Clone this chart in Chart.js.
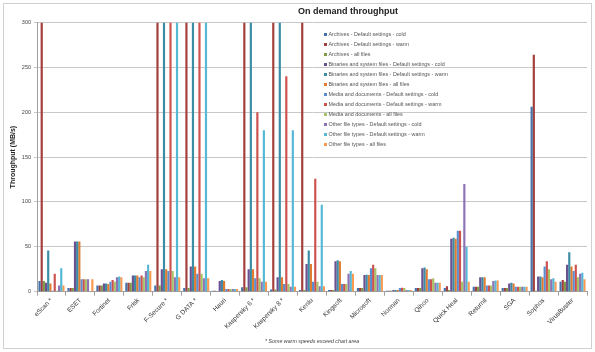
<!DOCTYPE html>
<html><head><meta charset="utf-8">
<script src="https://cdn.jsdelivr.net/npm/chart.js@4/dist/chart.umd.min.js"></script>
<style>html,body{margin:0;padding:0;background:#fff;} #wrap{width:595px;height:352px;position:relative;}</style>
</head><body><div id="wrap"><canvas id="c" width="595" height="352"></canvas></div>
<script>
const chartTitle = 'On demand throughput';
const yTitle = 'Throughput (MB/s)';
const footnote = '* Some warm speeds exceed chart area';
const categories = ['eScan *','ESET','Fortinet','Frisk','F-Secure *','G DATA *','Hauri','Kaspersky 6 *','Kaspersky 8 *','Kenlu','Kingsoft','Microsoft','Norman','Qihoo','Quick Heal','Returnil','SGA','Sophos','VirusBuster'];
const yTicks = [0,50,100,150,200,250,300];
const seriesNames = [
 'Archives - Default settings - cold','Archives - Default settings - warm','Archives - all files',
 'Binaries and system files - Default settings - cold','Binaries and system files - Default settings - warm','Binaries and system files - all files',
 'Media and documents - Default settings - cold','Media and documents - Default settings - warm','Media and documents - all files',
 'Other file types - Default settings - cold','Other file types - Default settings - warm','Other file types - all files'];
const seriesColors = ['#4672A8','#A23E3B','#7F9B47','#6A5190','#3B8CA5','#E07B30','#5A8ED0','#CD524E','#A5C466','#8E72B4','#55B8D4','#F99A50'];
const archColdVals = [12,4,7,10,7,4,1,5,2.5,2,2,4,1,4,4,5.5,4,206,11];
const archWarmVals = [300,4,7,10,300,300,1,300,300,300,2,4,1,4,6,5.5,4,264,13];
const archAllVals  = [12,4,7,10,7,4,0,5,2.5,2,2,4,1,4,2,5.5,4,1,11];
const binColdVals  = [10,56,9,18,25,28,12,25,16,31,34,18.5,2,26,59,16,9,17,30];
const binWarmVals  = [46,56,9,18,300,300,13,300,300,46,35,19,2,27,60,16,10,17,44];
const binAllVals   = [9,56,8.5,18,25,28,12,25,16,31,34,18.5,2,25,59,16,9,16,28];
const medColdVals  = [1,14,11,16,23,20,3,15,8.5,11,8.5,26,4,14,68,7,5.5,28,23];
const medWarmVals  = [20,14,13,18,300,300,3,200,240,126,8.5,30,4.5,14,68,7,5.5,34,30];
const medAllVals   = [1,14,11,16,23,20,3,15,8.5,11,8.5,26,4,15,11,7,5.5,25,16];
const othColdVals  = [7,14,16,23,16,15,3,11,5.5,6,20,18.5,2,10,120,12,5.5,14,20];
const othWarmVals  = [26,0,17,30,300,300,3,180,180,97,23,18.5,2,10,50,12.5,5.5,15,21];
const othAllVals   = [7,14,16,23,16,15,3,11,5.5,6,20,18.5,2,10,11,12.5,5.5,11,14];
const allSeries = [archColdVals,archWarmVals,archAllVals,binColdVals,binWarmVals,binAllVals,medColdVals,medWarmVals,medAllVals,othColdVals,othWarmVals,othAllVals];

const FONT = '"Liberation Sans", Arial, sans-serif';
const extras = {
  id: 'extras',
  afterDraw(chart) {
    const ctx = chart.ctx;
    ctx.save();
    ctx.strokeStyle = '#d0d0d0'; ctx.lineWidth = 1;
    ctx.strokeRect(3.5, 3.5, 588, 345);
    ctx.fillStyle = '#222';
    ctx.font = 'bold 9px ' + FONT;
    ctx.textAlign = 'center'; ctx.textBaseline = 'middle';
    ctx.fillText(chartTitle, 348, 12);
    ctx.save();
    ctx.translate(13, (chart.chartArea.top + chart.chartArea.bottom) / 2);
    ctx.rotate(-Math.PI / 2);
    ctx.font = 'bold 7px ' + FONT;
    ctx.fillText(yTitle, 0, 0);
    ctx.restore();
    ctx.font = 'italic 5.3px ' + FONT;
    ctx.fillStyle = '#444';
    ctx.textAlign = 'left';
    ctx.fillText(footnote, 265, 342);
    ctx.font = '5.4px ' + FONT;
    chart.data.datasets.forEach((ds, i) => {
      const y = 34.5 + i * 10;
      ctx.fillStyle = ds.backgroundColor;
      ctx.fillRect(324, y - 1.5, 3, 3);
      ctx.fillStyle = '#555';
      ctx.fillText(ds.label, 328.5, y);
    });
    ctx.restore();
  }
};

new Chart(document.getElementById('c'), {
  type: 'bar',
  data: {
    labels: categories,
    datasets: allSeries.map((vals, i) => ({
      label: seriesNames[i], data: vals, backgroundColor: seriesColors[i], borderWidth: 0
    }))
  },
  options: {
    responsive: false, animation: false,
    devicePixelRatio: 1,
    layout: { padding: { top: 22.5, right: 8, left: 0, bottom: 0 } },
    datasets: { bar: { categoryPercentage: 0.9, barPercentage: 1.0 } },
    plugins: { legend: { display: false }, title: { display: false }, tooltip: { enabled: false } },
    scales: {
      x: {
        grid: { offset: true, drawOnChartArea: false, color: '#a0a0a0', tickLength: 4 },
        border: { color: '#a0a0a0' },
        ticks: { minRotation: 45, maxRotation: 45, autoSkip: false, color: '#333', font: { size: 6.5, family: FONT }, padding: 1 },
        afterFit(s) { s.height = 60.3; }
      },
      y: {
        min: 0, max: 300,
        afterBuildTicks(s) { s.ticks = yTicks.map(v => ({ value: v })); },
        grid: { color: '#c8c8c8', tickLength: 3 },
        border: { color: '#a0a0a0' },
        ticks: { color: '#444', font: { size: 5.5, family: FONT }, padding: 3 },
        afterFit(s) { s.width = 37; }
      }
    }
  },
  plugins: [extras]
});
</script></body></html>
